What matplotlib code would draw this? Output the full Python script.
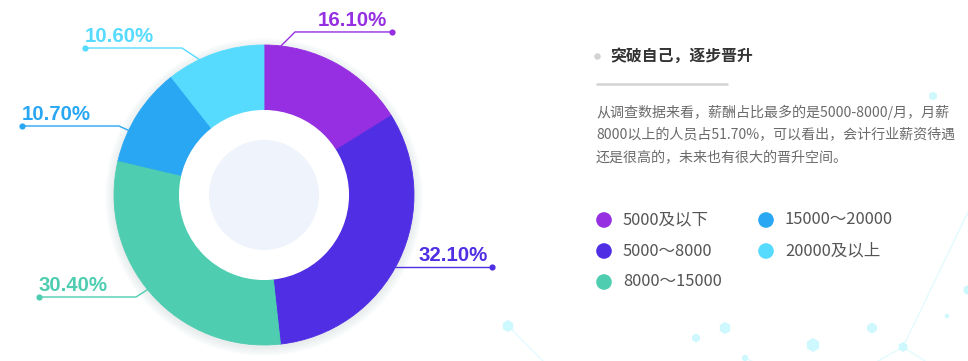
import numpy as np
import matplotlib
matplotlib.use("Agg")
import matplotlib.pyplot as plt
from matplotlib.patches import Circle, RegularPolygon

# ---------------- data ----------------
categories = ["5000及以下", "5000～8000", "8000～15000", "15000～20000", "20000及以上"]
values = [16.1, 32.1, 30.4, 10.7, 10.6]
value_labels = ["16.10%", "32.10%", "30.40%", "10.70%", "10.60%"]
colors = ["#952fe1", "#502ee3", "#4ecdb0", "#29a7f3", "#56dbff"]

title = "突破自己，逐步晋升"
paragraph = [
    "从调查数据来看，薪酬占比最多的是5000-8000/月，月薪",
    "8000以上的人员占51.70%，可以看出，会计行业薪资待遇",
    "还是很高的，未来也有很大的晋升空间。",
]

# ---------------- layout ----------------
W, H = 968, 361
CX, CY = 264, 195
R_OUT, R_IN, R_CORE = 150, 85, 55
# leader line anchor angles (deg, math convention) and elbow offsets (px)
label_angles = [83.5, -28.8, -140.9, 154.5, 115.5]
elbow_offsets = [(14, -14), (0, 0), (-11.6, 7.4), (-9.6, -4.4), (-17.4, -11.6)]
HORIZ = 97

fig = plt.figure(figsize=(W / 100, H / 100), dpi=100)
fig.patch.set_facecolor("white")
ax = fig.add_axes([0, 0, 1, 1])
ax.set_xlim(0, W)
ax.set_ylim(H, 0)
ax.axis("off")

# background decoration (faint network)
deco_col = "#cdf8fd"
line_col = "#e3fbfe"
deco_lines = [((508, 326), (543, 361)), ((903, 347), (968, 212)),
              ((903, 347), (878, 361)), ((903, 347), (925, 361)),
              ((745, 358), (760, 365))]
for (x0, y0), (x1, y1) in deco_lines:
    ax.plot([x0, x1], [y0, y1], color=line_col, lw=1, zorder=0)
deco_dots = [(508, 326, 6), (696, 338, 4.5), (725, 328, 6), (745, 358, 3.5),
             (813, 345, 7), (872, 328, 5.5), (903, 347, 5), (947, 316, 2.5),
             (968, 290, 5), (933, 96, 4.5)]
for x, y, r in deco_dots:
    ax.add_patch(RegularPolygon((x, y), 6, radius=r, color=deco_col, lw=0, zorder=0))

# soft shadow around the donut
for k in range(1, 10):
    ax.add_patch(Circle((CX, CY + 2), R_OUT + k, color="#4a5a9a", alpha=0.012, lw=0, zorder=1))

wedges, _ = ax.pie(values, colors=colors, startangle=-90, counterclock=True,
                   center=(CX, CY), radius=R_OUT,
                   wedgeprops=dict(width=R_OUT - R_IN, linewidth=0.6, antialiased=True))
for w, c in zip(wedges, colors):
    w.set_edgecolor(c)
    w.set_zorder(2)
ax.add_patch(Circle((CX, CY), R_IN, color="white", lw=0, zorder=3))
ax.add_patch(Circle((CX, CY), R_CORE, color="#eff3fc", lw=0, zorder=4))

ax.set_xlim(0, W)
ax.set_ylim(H, 0)
ax.set_aspect("equal")
ax.axis("off")

# leader lines & labels
for lab, ang, (ox, oy), c in zip(value_labels, label_angles, elbow_offsets, colors):
    a = np.deg2rad(ang)
    sx, sy = CX + R_OUT * np.cos(a), CY - R_OUT * np.sin(a)
    ex, ey = sx + ox, sy + oy
    right = np.cos(a) > 0
    fx = ex + HORIZ if right else ex - HORIZ
    ax.plot([sx, ex, fx], [sy, ey, ey], color=c, lw=1, zorder=5, solid_capstyle="round")
    ax.scatter([fx], [ey], s=20, color=c, zorder=6, linewidths=0)
    if right:
        ax.text(fx - 5, ey - 6, lab, ha="right", va="baseline", color=c,
                fontsize=14.7, fontweight="bold", family="Liberation Sans", zorder=6)
    else:
        ax.text(fx, ey - 6, lab, ha="left", va="baseline", color=c,
                fontsize=14.7, fontweight="bold", family="Liberation Sans", zorder=6)

cjk = ["Noto Sans CJK SC", "DejaVu Sans"]

# right panel
ax.scatter([597], [56], s=22, color="#d3d3d3", linewidths=0, zorder=5)
ax.text(610, 56, title, ha="left", va="center", fontsize=11.4, fontweight="bold",
        color="#333333", family=cjk)
ax.plot([596, 728], [84, 84], color="#d4d4d4", lw=1.8, solid_capstyle="butt")
for i, line in enumerate(paragraph):
    ax.text(596, 112 + i * 23, line, ha="left", va="center", fontsize=10.1,
            color="#6b6b6b", family=cjk)

# legend
leg_pos = [(604, 220), (604, 251), (604, 282), (766, 220), (766, 251)]
for (x, y), lab, c in zip(leg_pos, categories, colors):
    ax.add_patch(Circle((x, y), 7.8, color=c, lw=0, zorder=5))
    ax.text(x + 19, y, lab, ha="left", va="center", fontsize=11.9, color="#555555",
            family=cjk)

fig.savefig("out.png", dpi=100, facecolor="white")
